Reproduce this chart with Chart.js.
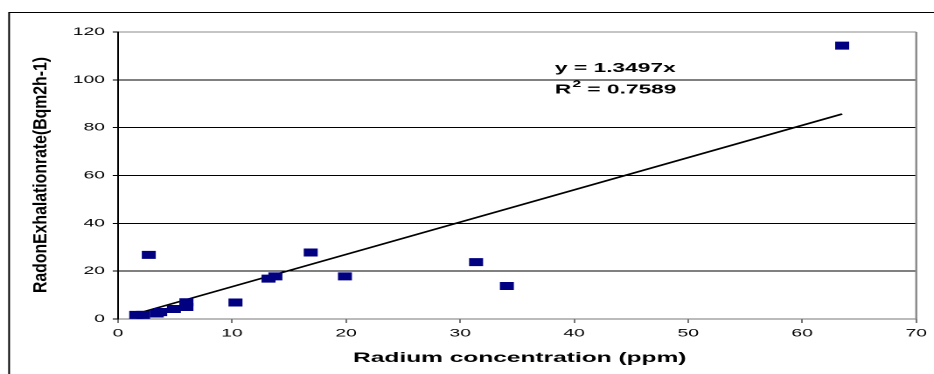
<!DOCTYPE html>
<html>
<head>
<meta charset="utf-8">
<script src="https://cdn.jsdelivr.net/npm/chart.js@4.4.0/dist/chart.umd.min.js"></script>
<style>
  html, body { margin: 0; padding: 0; background: #fff; overflow: hidden; }
  /* the original picture is stretched sideways, so the whole chart is drawn narrow and widened */
  #wrap { width: 534px; height: 374px; transform: scaleX(1.749); transform-origin: 0 0; }
</style>
</head>
<body>
<div id="wrap"><canvas id="grafico" width="534" height="374"></canvas></div>
<script>
// dados
const radium = [1.6, 2.2, 3.4, 3.7, 4.9, 6.0, 6.0, 10.3, 2.7, 13.2, 13.8, 16.9, 19.9, 31.4, 34.1, 63.5];
const exhalation = [1.7, 1.7, 2.3, 2.9, 4.2, 5.0, 7.0, 6.9, 26.8, 16.9, 17.8, 27.8, 17.8, 23.8, 13.8, 114.3];
const slope = 1.3497;
const rSquared = 0.7589;
const xRange = [0, 70, 10];
const yRange = [0, 120, 20];
const xTitle = 'Radium concentration (ppm)';
const yTitle = 'RadonExhalationrate(Bqm2h-1)';

const pontos = radium.map((x, i) => ({ x: x, y: exhalation[i] }));
const xMin = Math.min(...radium);
const xMax = Math.max(...radium);
const tendencia = [{ x: xMin, y: slope * xMin }, { x: xMax, y: slope * xMax }];

const extras = {
  id: 'extras',
  beforeDraw(chart) {
    const c = chart.ctx;
    c.save();
    c.strokeStyle = '#000';
    c.lineWidth = 1;
    c.strokeRect(5.2, 12.5, 700, 500);
    c.restore();
  },
  afterDraw(chart) {
    const c = chart.ctx;
    const a = chart.chartArea;
    c.save();
    // borda direita
    c.strokeStyle = '#8a8a8a';
    c.lineWidth = 1.2;
    c.beginPath();
    c.moveTo(a.right, a.top);
    c.lineTo(a.right, a.bottom);
    c.stroke();

    // equacao
    c.fillStyle = '#000';
    c.textBaseline = 'alphabetic';
    c.textAlign = 'left';
    c.font = 'bold 13px "Liberation Sans", Arial, sans-serif';
    const ex = 317.3;
    c.fillText('y = ' + slope + 'x', ex, 72);
    c.fillText('R', ex, 93.5);
    const rw = c.measureText('R').width;
    c.font = 'bold 9px "Liberation Sans", Arial, sans-serif';
    c.fillText('2', ex + rw + 0.5, 87);
    const sw = c.measureText('2').width;
    c.font = 'bold 13px "Liberation Sans", Arial, sans-serif';
    c.fillText(' = ' + rSquared, ex + rw + sw + 0.5, 93.5);

    // titulo x
    c.textAlign = 'center';
    c.font = 'bold 14px "Liberation Sans", Arial, sans-serif';
    c.fillText(xTitle, (a.left + a.right) / 2 + 1.5, 362);

    // titulo y
    c.translate(23.6, 175);
    c.rotate(-Math.PI / 2);
    c.scale(1, 0.7);
    c.textBaseline = 'middle';
    c.font = 'bold 16px "Liberation Sans", Arial, sans-serif';
    c.fillText(yTitle, 0, 0, 236);
    c.restore();
  }
};

const ctx = document.getElementById('grafico').getContext('2d');
new Chart(ctx, {
  type: 'scatter',
  data: {
    datasets: [
      {
        label: 'dados',
        data: pontos,
        pointStyle: 'rect',
        pointRadius: 5.66,
        pointHoverRadius: 5.66,
        pointBackgroundColor: '#000080',
        pointBorderWidth: 0,
        order: 1
      },
      {
        label: 'tendencia',
        type: 'line',
        data: tendencia,
        borderColor: '#000',
        borderWidth: 1.6,
        pointRadius: 0,
        fill: false,
        order: 2
      }
    ]
  },
  options: {
    responsive: false,
    animation: false,
    devicePixelRatio: 2,
    layout: { padding: { left: 0, top: 32, right: 6.8, bottom: 0 } },
    plugins: {
      legend: { display: false },
      tooltip: { enabled: false }
    },
    scales: {
      x: {
        type: 'linear',
        min: xRange[0],
        max: xRange[1],
        afterFit(scale) { scale.height = 55; },
        ticks: {
          stepSize: xRange[2],
          color: '#000',
          padding: 4,
          maxRotation: 0,
          font: { family: '"Liberation Sans", Arial, sans-serif', size: 11 }
        },
        grid: { drawOnChartArea: false, tickLength: 4, color: '#777', tickColor: '#777' },
        border: { color: '#777', width: 1 }
      },
      y: {
        min: yRange[0],
        max: yRange[1],
        afterFit(scale) { scale.width = 67.46; },
        ticks: {
          stepSize: yRange[2],
          color: '#000',
          padding: 4.5,
          font: { family: '"Liberation Sans", Arial, sans-serif', size: 11 }
        },
        grid: {
          tickLength: 3,
          tickColor: '#000',
          color: (c) => c.tick && c.tick.value === yRange[1] ? '#8a8a8a' : (c.tick && c.tick.value === yRange[0] ? 'rgba(0,0,0,0)' : '#000'),
          lineWidth: 1
        },
        border: { color: '#000', width: 1 }
      }
    }
  },
  plugins: [extras]
});
</script>
</body>
</html>
